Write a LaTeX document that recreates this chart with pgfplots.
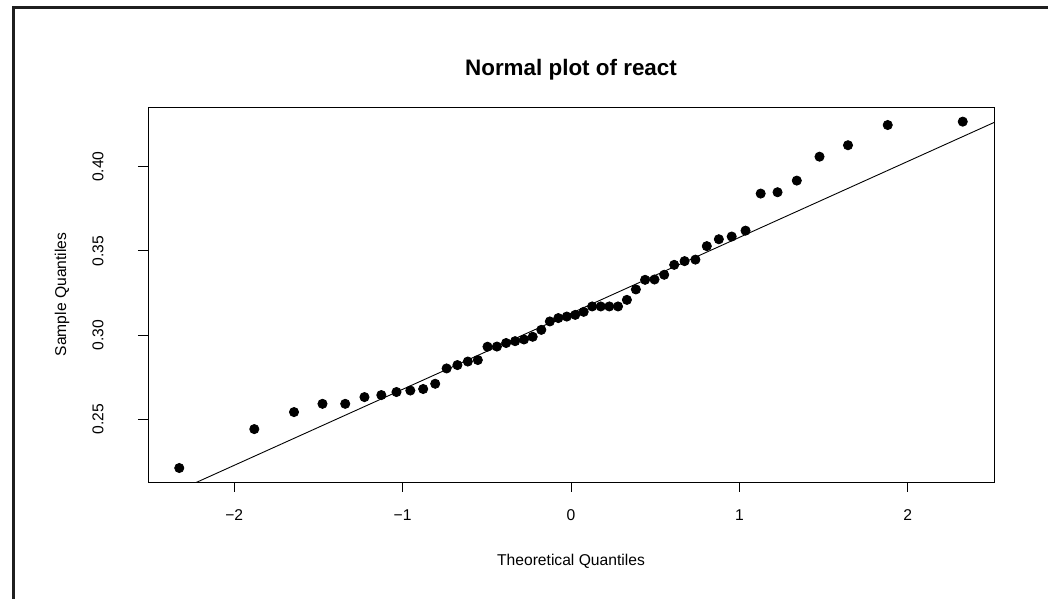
\documentclass[border=0pt]{standalone}
\usepackage{pgfplots}
\pgfplotsset{compat=1.18}
\usepackage{fontspec}
\setmainfont{Liberation Sans}
\pgfplotstableread{
x y
-2.3263 0.2211
-1.8808 0.2442
-1.6449 0.2543
-1.4758 0.2592
-1.3408 0.2592
-1.2265 0.2632
-1.1264 0.2644
-1.0364 0.2662
-0.9542 0.2671
-0.8779 0.2680
-0.8064 0.2711
-0.7388 0.2802
-0.6745 0.2822
-0.6128 0.2843
-0.5534 0.2852
-0.4959 0.2931
-0.4399 0.2932
-0.3853 0.2953
-0.3319 0.2964
-0.2793 0.2974
-0.2275 0.2990
-0.1764 0.3031
-0.1257 0.3081
-0.0753 0.3101
-0.0251 0.3110
0.0251 0.3120
0.0753 0.3138
0.1257 0.3170
0.1764 0.3170
0.2275 0.3170
0.2793 0.3170
0.3319 0.3209
0.3853 0.3271
0.4399 0.3328
0.4959 0.3330
0.5534 0.3358
0.6128 0.3417
0.6745 0.3439
0.7388 0.3448
0.8064 0.3528
0.8779 0.3569
0.9542 0.3585
1.0364 0.3620
1.1264 0.3840
1.2265 0.3848
1.3408 0.3917
1.4758 0.4059
1.6449 0.4127
1.8808 0.4247
2.3263 0.4267
}\qqdata
\begin{document}
\begin{tikzpicture}[x=1bp,y=1bp]
\useasboundingbox (0,0) rectangle (1048,599);
\draw[line width=3bp, color=black!88] (13.5,0) -- (13.5,591.5) -- (1048,591.5);
\begin{axis}[
  at={(148bp,117bp)}, anchor=south west,
  scale only axis, width=846bp, height=375bp,
  xmin=-2.512, xmax=2.512, ymin=0.2128, ymax=0.4354,
  axis line style={line width=0.9bp, black},
  xtick pos=lower, ytick pos=left,
  tick align=outside, major tick length=10bp,
  tick style={line width=0.9bp, black},
  xtick={-2,-1,0,1,2}, xticklabels={−2,−1,0,1,2},
  ytick={0.25,0.30,0.35,0.40}, yticklabels={0.25,0.30,0.35,0.40},
  ticklabel style={font=\fontsize{15.7}{18}\selectfont},
  xticklabel style={anchor=center, yshift=-23bp},
  yticklabel style={rotate=90, anchor=center, yshift=40bp},
  label style={font=\fontsize{15.7}{18}\selectfont},
  xlabel={Theoretical Quantiles},
  ylabel={Sample Quantiles},
  xlabel style={at={(axis description cs:0.5,0)}, anchor=center, yshift=-79bp},
  ylabel style={at={(axis description cs:0,0.5)}, anchor=center, yshift=86bp},
  title={Normal plot of react},
  title style={at={(axis description cs:0.5,1)}, anchor=center, yshift=31bp, font=\fontsize{22.5}{26}\selectfont\bfseries},
  clip=true,
]
\addplot[only marks, mark=*, mark size=4.6bp, mark options={fill=black, draw=black, line width=0.8bp}] table[x=x,y=y] {\qqdata};
\addplot[black, line width=0.9bp, no marks] coordinates {(-2.512,0.1996) (2.512,0.4262)};
\end{axis}
\end{tikzpicture}
\end{document}
